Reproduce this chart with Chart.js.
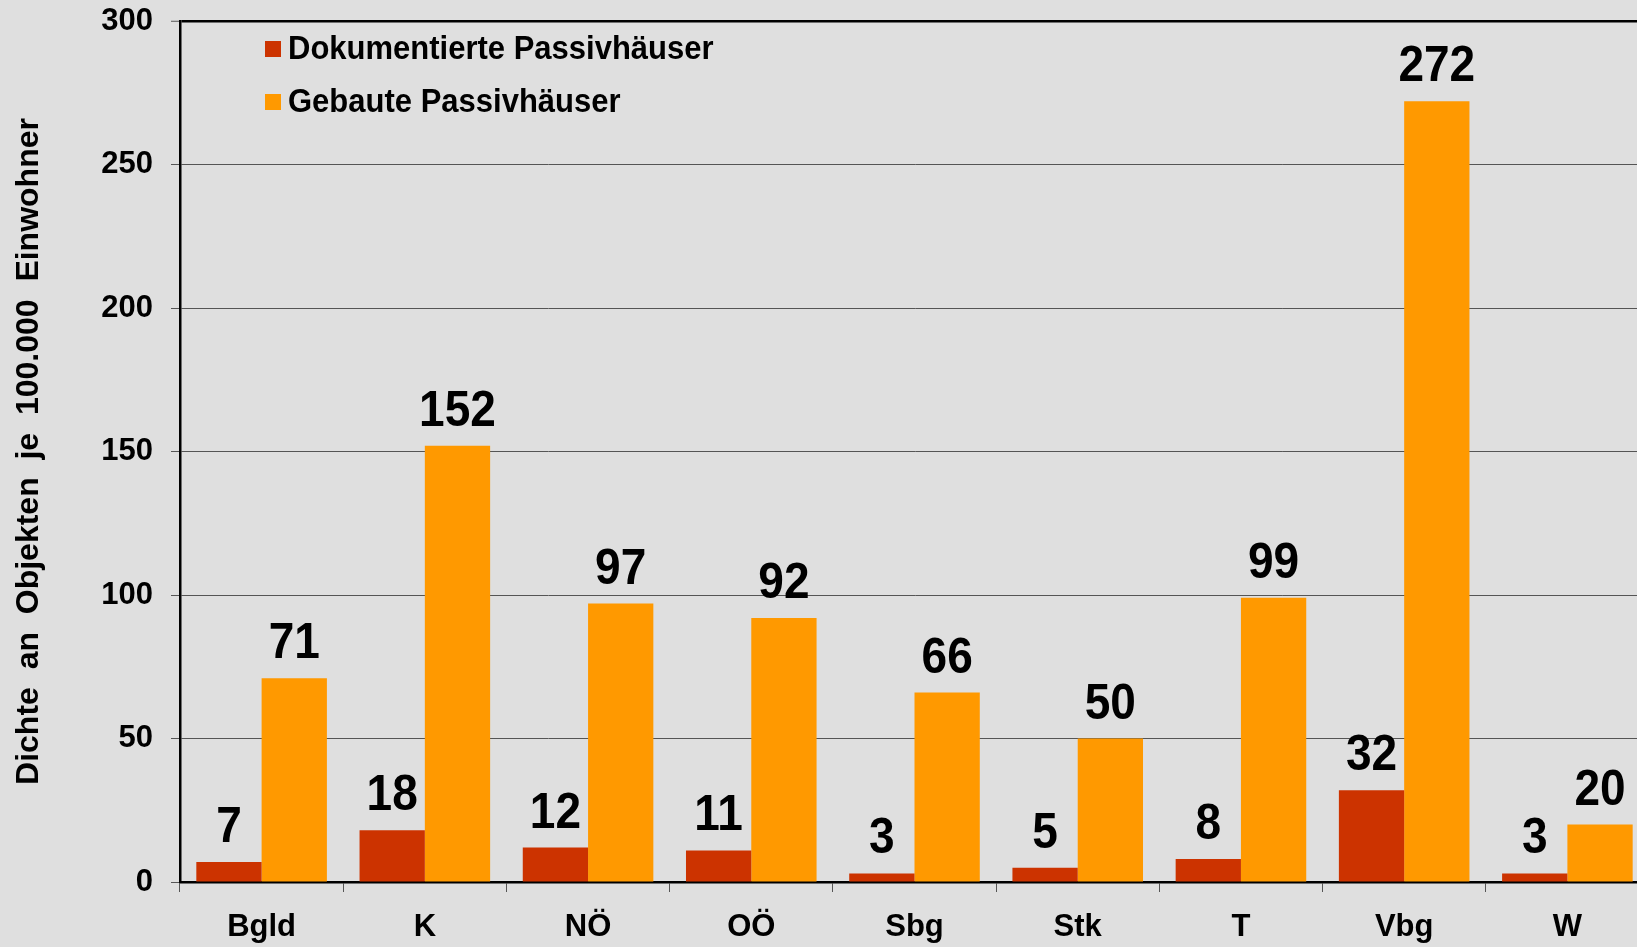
<!DOCTYPE html>
<html>
<head>
<meta charset="utf-8">
<title>Passivhäuser je 100.000 Einwohner</title>
<script src="https://cdn.jsdelivr.net/npm/chart.js@4.4.1/dist/chart.umd.min.js"></script>
<style>
    html, body { margin: 0; padding: 0; background: #dfdfdf; overflow: hidden; }
    #chart { position: absolute; left: 0; top: 0; }
</style>
</head>
<body>
<canvas id="chart" width="1660" height="947"></canvas>
<script>
const FONT = '"Liberation Sans", Arial, sans-serif';

const categories = ["Bgld", "K", "NÖ", "OÖ", "Sbg", "Stk", "T", "Vbg", "W"];
const documented = [7, 18, 12, 11, 3, 5, 8, 32, 3];
const built = [71, 152, 97, 92, 66, 50, 99, 272, 20];
const yTicks = [0, 50, 100, 150, 200, 250, 300];
const yTitle = "Dichte  an  Objekten  je  100.000  Einwohner";

// value labels above each bar (text a bit taller than wide, like the original)
const barLabels = {
    id: "barLabels",
    afterDatasetsDraw(chart) {
        let ctx = chart.ctx;
        ctx.save();
        ctx.font = "bold 46px " + FONT;
        ctx.fillStyle = "#000";
        ctx.textAlign = "center";
        ctx.textBaseline = "alphabetic";
        chart.data.datasets.forEach((ds, i) => {
            chart.getDatasetMeta(i).data.forEach((bar, j) => {
                ctx.save();
                ctx.translate(bar.x, bar.y - 20);
                ctx.scale(1, 1.07);
                ctx.fillText(String(ds.data[j]), 0, 0);
                ctx.restore();
            });
        });
        ctx.restore();
    }
};

// legend drawn inside the plot, top left
const innerLegend = {
    id: "innerLegend",
    afterDraw(chart) {
        let ctx = chart.ctx;
        ctx.save();
        ctx.font = "bold 31px " + FONT;
        ctx.textAlign = "left";
        ctx.textBaseline = "middle";
        chart.data.datasets.forEach((ds, i) => {
            let y = 49 + i * 53;
            ctx.fillStyle = ds.backgroundColor;
            ctx.fillRect(265, y - 8, 16, 16);
            ctx.fillStyle = "#000";
            ctx.save();
            ctx.translate(288, y + 1);
            ctx.scale(1, 1.07);
            ctx.fillText(ds.label, 0, 0);
            ctx.restore();
        });
        ctx.restore();
    }
};

new Chart(document.getElementById("chart").getContext("2d"), {
    type: "bar",
    data: {
        labels: categories,
        datasets: [
            { label: "Dokumentierte Passivhäuser", data: documented, backgroundColor: "#cc3300" },
            { label: "Gebaute Passivhäuser", data: built, backgroundColor: "#ff9900" }
        ]
    },
    options: {
        responsive: false,
        animation: false,
        layout: { padding: { top: 21, right: 11, left: 0, bottom: 0 } },
        datasets: { bar: { categoryPercentage: 0.8, barPercentage: 1.0 } },
        plugins: { legend: { display: false }, tooltip: { enabled: false } },
        scales: {
            x: {
                grid: { drawOnChartArea: false, offset: true, tickLength: 10, color: "#555", lineWidth: 1 },
                border: { color: "#000", width: 2.5 },
                ticks: { color: "#000", font: { family: FONT, size: 31, weight: "bold" }, padding: 17, maxRotation: 0 },
                afterFit: (scale) => { scale.height = 65; }
            },
            y: {
                min: 0,
                max: 300,
                afterBuildTicks: (scale) => { scale.ticks = yTicks.map((v) => ({ value: v })); },
                grid: {
                    tickLength: 9,
                    tickColor: "#555",
                    tickWidth: 1,
                    color: (c) => c.tick && c.tick.value === 300 ? "#000" : "#555",
                    lineWidth: (c) => c.tick && c.tick.value === 300 ? 2.5 : 1
                },
                border: { color: "#000", width: 2.5 },
                ticks: { color: "#000", font: { family: FONT, size: 31, weight: "bold" }, padding: 18 },
                title: {
                    display: true,
                    text: yTitle,
                    color: "#000",
                    font: { family: FONT, size: 32, weight: "bold" },
                    padding: { top: 10, bottom: 0 }
                },
                afterFit: (scale) => {
                    scale.width = 180;
                    scale.paddingTop = 0;
                    scale.paddingBottom = 0;
                }
            }
        }
    },
    plugins: [barLabels, innerLegend]
});
</script>
</body>
</html>
